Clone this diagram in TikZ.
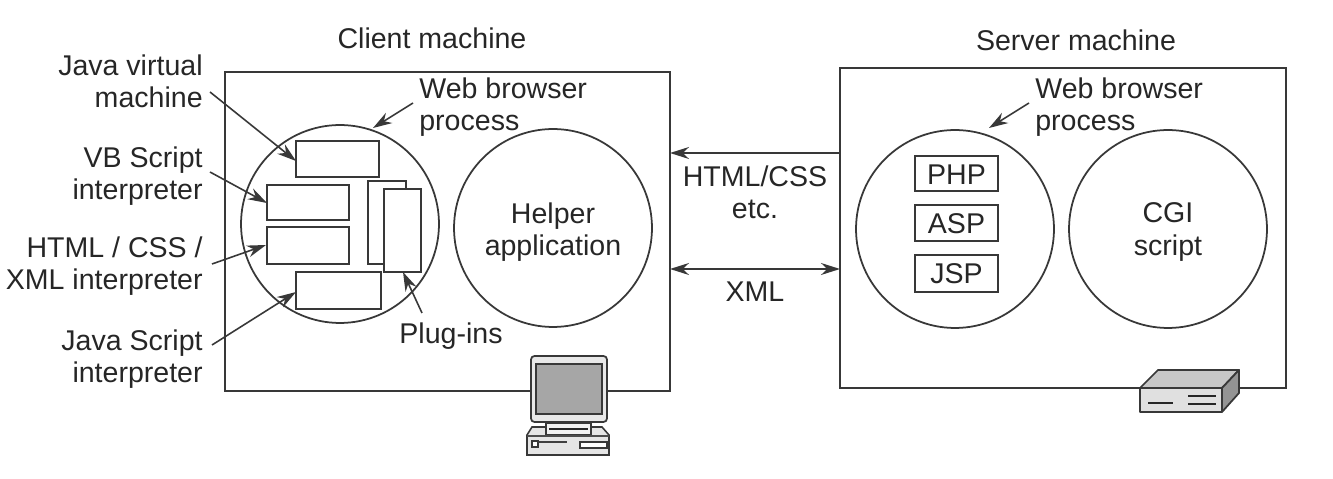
\documentclass[tikz,border=0pt]{standalone}
\usepackage{fontspec}
\setmainfont{Liberation Sans}
\usetikzlibrary{arrows.meta}
\colorlet{inkgray}{black!78}
\tikzset{
	lab/.style={inner sep=0pt,text=black!85,font=\fontsize{16.25}{18.4}\selectfont},
	proc/.style={draw=inkgray,line width=1pt,circle,inner sep=0pt,outer sep=0pt,minimum size=3.96cm},
	bx/.style={draw=inkgray,line width=1pt,fill=white},
	pointer/.style={draw=inkgray,line width=0.9pt,-{Stealth[length=3.8mm,width=2.4mm]}},
	dual/.style={draw=inkgray,line width=0.9pt,{Stealth[length=3.8mm,width=2.4mm]}-{Stealth[length=3.8mm,width=2.4mm]}}
}
\begin{document}
\begin{tikzpicture}[x=0.02cm,y=-0.02cm]
\useasboundingbox (0,0) rectangle (1333,479);
\draw[bx] (225,72) rectangle (670,391);
\draw[bx] (840,68) rectangle (1286,388);
\coordinate (clientE) at (670,153);
\coordinate (clientX) at (670,269);
\coordinate (serverW) at (840,153);
\coordinate (serverX) at (840,269);
\node [proc] (browser) at (340,224) {};
\node [proc] (helper) at (553,228) {};
\node [proc] (webproc) at (955,229) {};
\node [proc] (cgi) at (1168,229) {};
\node [lab,align=center] (helperlab) at (553,232) {Helper\\application};
\node [lab,align=center] (cgilab) at (1168,232) {CGI\\script};
% boxes in the browser
\draw[bx] (296,141) rectangle (379,177);
\draw[bx] (267,185) rectangle (349,220);
\draw[bx] (267,227) rectangle (349,264);
\draw[bx] (296,272) rectangle (381,309);
\draw[bx] (368,181) rectangle (406,264);
\draw[bx] (384,189) rectangle (421,272);
\coordinate (jvmT) at (296,161);
\coordinate (vbT) at (267,203);
\coordinate (htmlT) at (266,245);
\coordinate (jsT) at (296,292);
\coordinate (plugT) at (403,272);
\coordinate (browserT) at (373,128);
\coordinate (webprocT) at (989,128);
% php boxes
\draw[bx] (915,156) rectangle (998,191);
\draw[bx] (915,205) rectangle (998,241);
\draw[bx] (915,255) rectangle (998,292);
\node [lab] (php) at (956.5,175) {PHP};
\node [lab] (asp) at (956.5,224) {ASP};
\node [lab] (jsp) at (956.5,274) {JSP};
% labels
\node [lab] (client) at (432,38) {Client machine};
\node [lab] (server) at (1076,40) {Server machine};
\node [lab,align=right,anchor=east] (jvm) at (203,81) {Java virtual\\machine};
\node [lab,align=right,anchor=east] (vb) at (203,176) {VB Script\\interpreter};
\node [lab,align=right,anchor=east] (html) at (203,266) {HTML / CSS /\\XML interpreter};
\node [lab,align=right,anchor=east] (js) at (203,359) {Java Script\\interpreter};
\node [lab,align=left,anchor=west] (wb) at (419,107) {Web browser\\process};
\node [lab,align=left,anchor=west] (wbs) at (1035,107) {Web browser\\process};
\node [lab] (plugins) at (451,336) {Plug-ins};
\node [lab,align=center] (htmlcss) at (755,192) {HTML/CSS\\etc.};
\node [lab] (xml) at (755,292) {XML};
% arrows
\coordinate (jvmS) at (210,92);
\coordinate (vbS) at (210,172);
\coordinate (htmlS) at (212,264);
\coordinate (jsS) at (212,345);
\coordinate (plugS) at (422,313);
\coordinate (wbS) at (413,103);
\coordinate (wbsS) at (1029,103);
\draw[pointer] (jvmS) -- (jvmT);
\draw[pointer] (vbS) -- (vbT);
\draw[pointer] (htmlS) -- (htmlT);
\draw[pointer] (jsS) -- (jsT);
\draw[pointer] (plugS) -- (plugT);
\draw[pointer] (wbS) -- (browserT);
\draw[pointer] (wbsS) -- (webprocT);
\draw[pointer] (serverW) -- (clientE);
\draw[dual] (clientX) -- (serverX);
% computer
\draw[inkgray,fill=black!10,line width=0.9pt] (532,427) -- (602,427) -- (609,435) -- (609,455) -- (527,455) -- (527,435) -- cycle;
\draw[inkgray,line width=0.9pt,fill=black!5] (546,423) rectangle (591,435);
\draw[black!85,line width=1.4pt] (549,429) -- (588,429);
\draw[black!70,line width=0.8pt] (527,436) -- (609,436);
\draw[inkgray,line width=0.8pt,fill=white] (532,441) rectangle (538,447);
\draw[black!75,line width=1.3pt] (538,442) -- (567,442);
\draw[inkgray,line width=0.8pt,fill=white] (580,442) rectangle (607,448);
\draw[inkgray,fill=black!9,line width=1pt,rounded corners=2pt] (531,356) rectangle (607,422);
\draw[inkgray,fill=black!35,line width=0.8pt] (536,364) rectangle (602,414);
% server box
\draw[inkgray,fill=black!22,line width=1pt,line join=round] (1140,388) -- (1158,370) -- (1239,370) -- (1222,388) -- cycle;
\draw[inkgray,fill=black!12,line width=1pt,line join=round] (1140,388) rectangle (1222,412);
\draw[inkgray,fill=black!42,line width=1pt,line join=round] (1222,388) -- (1239,370) -- (1239,393) -- (1222,412) -- cycle;
\draw[black!85,line width=1.7pt] (1148,403) -- (1173,403);
\draw[black!85,line width=1.5pt] (1188,396) -- (1216,396);
\draw[black!85,line width=1.5pt] (1188,404) -- (1216,404);
\end{tikzpicture}
\end{document}
